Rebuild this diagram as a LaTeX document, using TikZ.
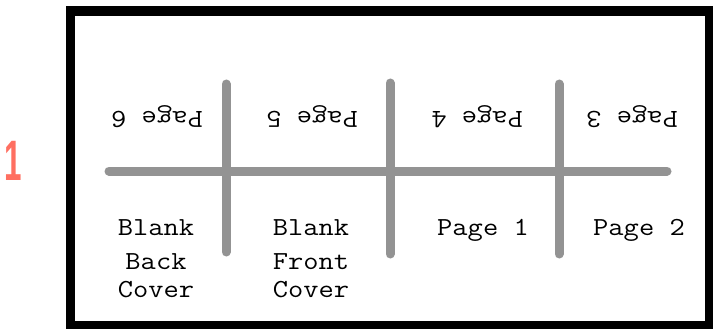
\documentclass[tikz,border=0pt]{standalone}
\usepackage{fontspec}
\newfontfamily\numfont{Liberation Sans}
\definecolor{foldgray}{HTML}{939393}
\definecolor{salmon}{HTML}{FF6F61}
\begin{document}
\begin{tikzpicture}[x=1pt,y=-1pt,
  fold/.style={draw=foldgray,line width=9pt,line cap=round},
  pagetxt/.style={font=\fontsize{26}{28}\selectfont\ttfamily,inner sep=0pt,anchor=base,xscale=1.14},
  flipped/.style={pagetxt,rotate=180}]
\useasboundingbox (0,0) rectangle (713,329);
\draw[line width=9.5pt] (70.5,11) rectangle (709.5,326);
% fold lines
\coordinate (hl) at (109,171);
\coordinate (hr) at (667,171);
\coordinate (v1t) at (226,84);
\coordinate (v1b) at (226,252);
\coordinate (v2t) at (390,83);
\coordinate (v2b) at (390,254);
\coordinate (v3t) at (559,84);
\coordinate (v3b) at (559,254);
\draw[fold] (hl) -- (hr);
\draw[fold] (v1t) -- (v1b);
\draw[fold] (v2t) -- (v2b);
\draw[fold] (v3t) -- (v3b);
% upside-down pages
\node[flipped] (p6) at (157,111) {Page 6};
\node[flipped] (p5) at (312,111) {Page 5};
\node[flipped] (p4) at (477,111) {Page 4};
\node[flipped] (p3) at (632,111) {Page 3};
% upright pages
\node[pagetxt] (bb1) at (156,235) {Blank};
\node[pagetxt] (bb2) at (156,269) {Back};
\node[pagetxt] (bb3) at (156,297) {Cover};
\node[pagetxt] (bf1) at (311,235) {Blank};
\node[pagetxt] (bf2) at (311,269) {Front};
\node[pagetxt] (bf3) at (311,297) {Cover};
\node[pagetxt] (p1) at (483,235) {Page 1};
\node[pagetxt] (p2) at (639,235) {Page 2};
% label
\node[text=salmon,font=\fontsize{57}{60}\numfont\bfseries,inner sep=0pt,anchor=base,xscale=0.55] (num) at (13,180) {1};
\end{tikzpicture}
\end{document}
